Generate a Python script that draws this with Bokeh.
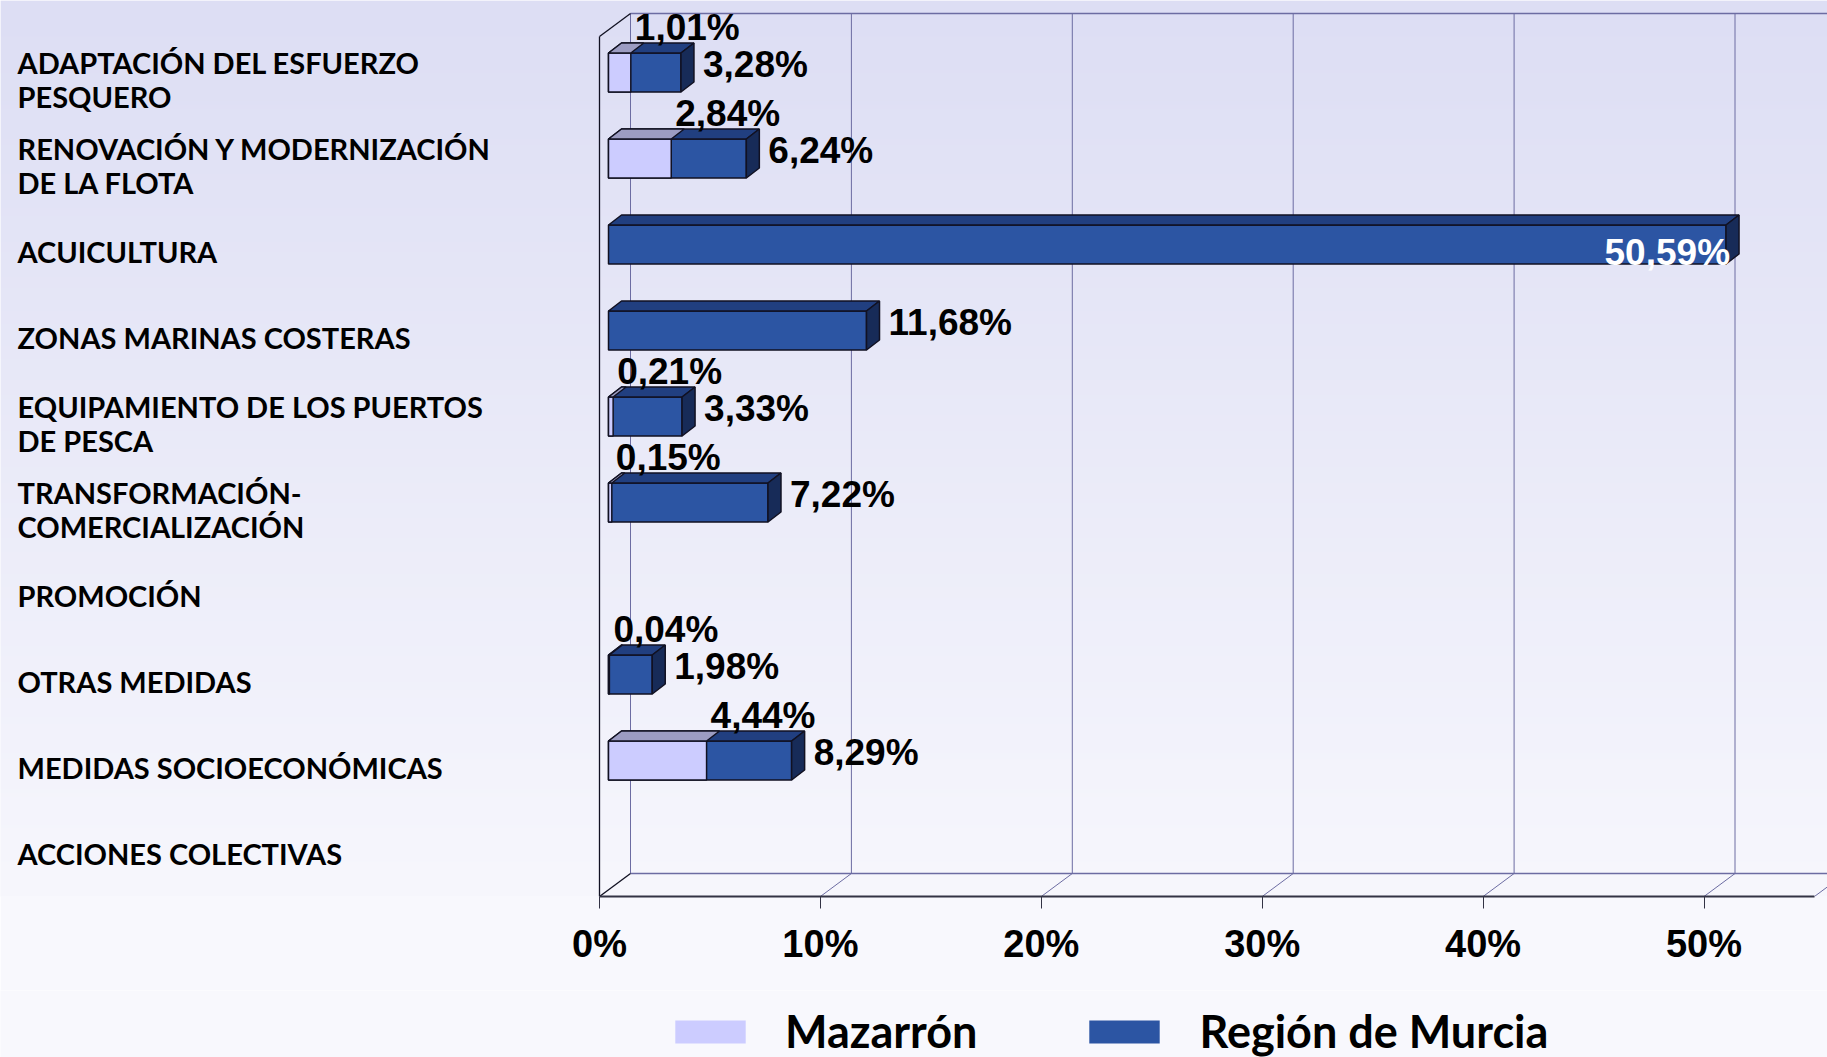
import numpy as np
from bokeh.plotting import figure
from bokeh.models import Range1d, FixedTicker, Legend, LegendItem
from bokeh.layouts import column
from bokeh.embed import file_html
from bokeh.resources import INLINE
from bokeh.core.properties import value

# ---------------- data ----------------
categories = [
    "ADAPTACIÓN DEL ESFUERZO\nPESQUERO",
    "RENOVACIÓN Y MODERNIZACIÓN\nDE LA FLOTA",
    "ACUICULTURA",
    "ZONAS MARINAS COSTERAS",
    "EQUIPAMIENTO DE LOS PUERTOS\nDE PESCA",
    "TRANSFORMACIÓN-\nCOMERCIALIZACIÓN",
    "PROMOCIÓN",
    "OTRAS MEDIDAS",
    "MEDIDAS SOCIOECONÓMICAS",
    "ACCIONES COLECTIVAS",
]
mazarron = [1.01, 2.84, 0, 0, 0.21, 0.15, 0, 0.04, 4.44, 0]
region = [3.28, 6.24, 50.59, 11.68, 3.33, 7.22, 0, 1.98, 8.29, 0]
series_names = ["Mazarrón", "Región de Murcia"]
tick_values = [0, 10, 20, 30, 40, 50]
tick_labels = ["0%", "10%", "20%", "30%", "40%", "50%"]
axis_max = 55

# ---------------- styling / geometry ----------------
W = 1827
FRAME_H = 896
H1 = 990
H2 = 67
PX_PER_PCT = 22.09
PX_PER_ROW = 86.0


def px_x(px):
    return px / PX_PER_PCT


def px_y(px):
    return px / PX_PER_ROW


X_START = -599 / PX_PER_PCT
X_END = X_START + W / PX_PER_PCT
Y_TOP = 72 / PX_PER_ROW
Y_BOTTOM = Y_TOP - FRAME_H / PX_PER_ROW

WALL_DX = px_x(31)
WALL_DY = px_y(23)
FRONT_Y = Y_BOTTOM
BACK_Y = Y_BOTTOM + WALL_DY
WALL_TOP = Y_TOP - px_y(13)
LEFT_TOP = Y_TOP - px_y(36)

BAR_X0 = px_x(9)
BAR_HALF = px_y(19.5)
BAR_DX = px_x(13)
BAR_DY = px_y(10)

REG_FRONT = "#2c55a3"
REG_TOP = "#213f80"
REG_SIDE = "#172b58"
MAZ_FRONT = "#ccccff"
MAZ_TOP = "#9c9cc2"
GRID = "#6c6ca2"
EDGE = "#111122"
BG_BOTTOM = "#f8f8fd"

NUM_FONT = "Liberation Sans"
CAT_FONT = "Lato"

p = figure(width=W, height=H1, x_range=Range1d(X_START, X_END),
           y_range=Range1d(Y_BOTTOM, Y_TOP), output_backend="svg",
           toolbar_location=None, y_axis_location=None,
           min_border_left=0, min_border_right=0, min_border_top=0,
           min_border_bottom=H1 - FRAME_H)
p.grid.visible = False
p.outline_line_color = None
p.border_fill_color = BG_BOTTOM
p.background_fill_color = BG_BOTTOM

# gradient background
N = FRAME_H
t = np.linspace(0, 1, N)  # 0 bottom -> 1 top
top_c = np.array([221, 222, 244])
bot_c = np.array([247, 247, 253])
rgba = np.zeros((N, 1, 4), dtype=np.uint8)
for k in range(3):
    rgba[:, 0, k] = (bot_c[k] + (top_c[k] - bot_c[k]) * t).astype(np.uint8)
rgba[:, 0, 3] = 255
img = rgba.view(dtype=np.uint32).reshape((N, 1))
p.image_rgba(image=[img], x=X_START, y=Y_BOTTOM, dw=X_END - X_START, dh=Y_TOP - Y_BOTTOM)

# back wall grid lines
gx = [v + WALL_DX for v in tick_values]
p.segment(x0=gx, y0=[BACK_Y] * len(gx), x1=gx, y1=[WALL_TOP] * len(gx),
          line_color=GRID, line_width=1)
p.segment(x0=[WALL_DX], y0=[WALL_TOP], x1=[X_END], y1=[WALL_TOP], line_color=GRID, line_width=1.5)
p.segment(x0=[WALL_DX], y0=[BACK_Y], x1=[axis_max + WALL_DX], y1=[BACK_Y], line_color=GRID, line_width=1.5)
# floor diagonals
fx = tick_values[1:] + [axis_max]
p.segment(x0=fx, y0=[FRONT_Y] * len(fx), x1=[v + WALL_DX for v in fx], y1=[BACK_Y] * len(fx),
          line_color=GRID, line_width=1)
# left wall
p.segment(x0=[0, 0, 0], y0=[FRONT_Y, LEFT_TOP, FRONT_Y], x1=[0, WALL_DX, WALL_DX],
          y1=[LEFT_TOP, WALL_TOP, BACK_Y], line_color=EDGE, line_width=1.3)

# bars
rows = list(range(len(categories)))


def draw_bars(vals, front, topc, sidec, with_side):
    idx = [i for i in rows if vals[i] > 0]
    left = [BAR_X0] * len(idx)
    right = [vals[i] + BAR_X0 for i in idx]
    top = [-i + BAR_HALF for i in idx]
    bottom = [-i - BAR_HALF for i in idx]
    p.quad(left=left, right=right, top=top, bottom=bottom, fill_color=front,
           line_color=EDGE, line_width=1.5)
    txs, tys, sxs, sys_ = [], [], [], []
    for l, r, tp, bt in zip(left, right, top, bottom):
        txs.append([l, l + BAR_DX, r + BAR_DX, r])
        tys.append([tp, tp + BAR_DY, tp + BAR_DY, tp])
        sxs.append([r, r + BAR_DX, r + BAR_DX, r])
        sys_.append([tp, tp + BAR_DY, bt + BAR_DY, bt])
    p.patches(xs=txs, ys=tys, fill_color=topc, line_color=EDGE, line_width=1.5)
    if with_side:
        p.patches(xs=sxs, ys=sys_, fill_color=sidec, line_color=EDGE, line_width=1.5)


draw_bars(region, REG_FRONT, REG_TOP, REG_SIDE, True)
draw_bars(mazarron, MAZ_FRONT, MAZ_TOP, None, False)


def fmt(v):
    return ("%.2f" % v).replace(".", ",") + "%"


# labels
vmax = max(region)
m_idx = [i for i in rows if mazarron[i] > 0]
p.text(x=[mazarron[i] for i in m_idx], y=[-i for i in m_idx], text=[fmt(mazarron[i]) for i in m_idx],
       x_offset=13, y_offset=-45, text_align="left", text_baseline="alphabetic",
       text_font=value(NUM_FONT), text_font_style="bold", text_font_size="37px", text_color="black")
r_out = [i for i in rows if 0 < region[i] < 0.8 * vmax]
p.text(x=[region[i] for i in r_out], y=[-i for i in r_out], text=[fmt(region[i]) for i in r_out],
       x_offset=31, y_offset=-8, text_align="left", text_baseline="alphabetic",
       text_font=value(NUM_FONT), text_font_style="bold", text_font_size="37px", text_color="black")
r_in = [i for i in rows if region[i] >= 0.8 * vmax]
p.text(x=[region[i] for i in r_in], y=[-i for i in r_in], text=[fmt(region[i]) for i in r_in],
       x_offset=13, y_offset=8, text_align="right", text_baseline="alphabetic",
       text_font=value(NUM_FONT), text_font_style="bold", text_font_size="37px", text_color="white")

# category labels
p.text(x=[X_START] * len(rows), y=[-i for i in rows], text=categories,
       x_offset=17, y_offset=7, text_align="left", text_baseline="middle",
       text_line_height=0.97,
       text_font=value(CAT_FONT), text_font_style="bold", text_font_size="29px", text_color="black")

# x axis
ax = p.xaxis[0]
ax.ticker = FixedTicker(ticks=tick_values)
ax.major_label_overrides = {v: s for v, s in zip(tick_values, tick_labels)}
ax.bounds = (0, axis_max)
ax.axis_line_color = "#333344"
ax.axis_line_width = 2
ax.major_tick_in = 0
ax.major_tick_out = 12
ax.major_tick_line_color = "#333344"
ax.minor_tick_line_color = None
ax.major_label_standoff = 14
ax.major_label_text_font = NUM_FONT
ax.major_label_text_font_style = "bold"
ax.major_label_text_font_size = "38px"
ax.major_label_text_color = "black"

# legend figure
p2 = figure(width=W, height=H2, x_range=Range1d(0, W), y_range=Range1d(0, H2),
            output_backend="svg", toolbar_location=None,
            x_axis_location=None, y_axis_location=None, min_border=0)
p2.grid.visible = False
p2.outline_line_color = None
p2.background_fill_color = BG_BOTTOM
p2.border_fill_color = BG_BOTTOM
# legend-only renderers (placed outside the visible range)
r1 = p2.quad(left=[-20], right=[-10], top=[-10], bottom=[-20], fill_color=MAZ_FRONT, line_color=None)
r2 = p2.quad(left=[-20], right=[-10], top=[-10], bottom=[-20], fill_color=REG_FRONT, line_color=None)
legend = Legend(items=[LegendItem(label=series_names[0], renderers=[r1]),
                       LegendItem(label=series_names[1], renderers=[r2])],
                location=(666, -1), orientation="horizontal",
                glyph_width=88, glyph_height=29, label_standoff=31, spacing=103,
                padding=0, margin=0, border_line_color=None, background_fill_alpha=0,
                label_text_font=CAT_FONT, label_text_font_style="bold",
                label_text_font_size="45px", label_text_color="black")
p2.add_layout(legend)

layout = column(p, p2, spacing=0)
open("out.html", "w").write(file_html(layout, INLINE))
